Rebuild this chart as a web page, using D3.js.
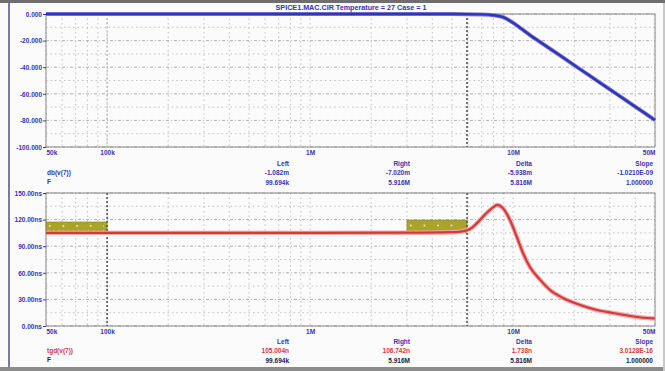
<!DOCTYPE html>
<html><head><meta charset="utf-8">
<script src="https://cdn.jsdelivr.net/npm/d3@7"></script>
<style>
html,body{margin:0;padding:0;background:#fff;}
svg{display:block;font-family:"Liberation Sans",Arial,sans-serif;}
</style></head>
<body>
<svg id="c" width="665" height="371"></svg>
<script>
// ---- data ----
const titleText = "SPICE1.MAC.CIR Temperature = 27 Case = 1";
const xTickValues = [50e3, 100e3, 1e6, 10e6, 50e6];
const xTickLabels = ["50k", "100k", "1M", "10M", "50M"];

const magFreq = [50e3, 100e3, 1e6, 3e6, 5e6, 7e6, 8e6, 9e6, 10e6, 11e6, 12.1e6, 14e6, 17e6, 21e6, 26e6, 31e6, 38e6, 45e6, 50e6];
const magDb   = [0, 0, 0, -0.01, -0.05, -0.3, -0.9, -2.6, -6.6, -11.2, -15.8, -22.4, -31.1, -40.7, -50.3, -58.2, -67.4, -75.0, -79.8];
const magTickValues = [0, -20, -40, -60, -80, -100];
const magTickLabels = ["0.000", "-20.000", "-40.000", "-60.000", "-80.000", "-100.000"];

const gdFreq = [50e3, 100e3, 1e6, 3e6, 5e6, 5.5e6, 6.2e6, 6.64e6, 7.44e6, 8.0e6, 8.33e6, 8.9e6, 9.65e6, 10.45e6, 11.2e6, 12.1e6, 13.6e6, 15.2e6, 17.6e6, 21.4e6, 25.9e6, 31e6, 37.7e6, 45.7e6, 50e6];
const gdNs   = [105, 105, 105, 105.2, 105.8, 106.5, 110, 116, 128, 134, 136.5, 133, 119.5, 100, 82, 66.5, 52, 40.6, 31.6, 23.7, 18, 14.7, 11.3, 9.0, 8.5];
const gdTickValues = [150, 120, 90, 60, 30, 0];
const gdTickLabels = ["150.00ns", "120.00ns", "90.00ns", "60.00ns", "30.00ns", "0.00ns"];

// spec boxes on the group-delay plot: [fLow, fHigh, nsLow, nsHigh]
const boxFreqLow  = [50e3, 3e6];
const boxFreqHigh = [100e3, 5.93e6];
const boxNsLow    = [106, 105];
const boxNsHigh   = [117.3, 119.5];

const cursorFreqs = [100e3, 5.93e6];

const readoutHeads = ["Left", "Right", "Delta", "Slope"];
const magReadout   = ["-1.082m", "-7.020m", "-5.938m", "-1.0210E-09"];
const freqReadout  = ["99.694k", "5.916M", "5.816M", "1.000000"];
const gdReadout    = ["105.004n", "106.742n", "1.738n", "3.0128E-16"];
const magTraceName = "db(v(7))";
const gdTraceName  = "tgd(v(7))";

// ---- drawing ----
const svg = d3.select("#c");
const W = 665, H = 371;
const X0 = 46, X1 = 655;
const x = d3.scaleLog().domain([50e3, 50e6]).range([X0, X1]);
const yTop = d3.scaleLinear().domain([-100, 0]).range([147, 14]);
const yBot = d3.scaleLinear().domain([0, 150]).range([326, 193]);

const BLUE = "#3434b4", RED = "#d43a3a", GRID = "#b4b4b4";

svg.append("rect").attr("width", W).attr("height", H).attr("fill", "#fbfbfb");
// window frame
svg.append("rect").attr("x", 0).attr("y", 0).attr("width", W).attr("height", 3).attr("fill", "#6e6e6e");
svg.append("rect").attr("x", 8).attr("y", 3).attr("width", 2).attr("height", H - 3).attr("fill", "#7a7aa0");
svg.append("rect").attr("x", 0).attr("y", 367).attr("width", W).attr("height", 4).attr("fill", "#8c8c8c");
svg.append("rect").attr("x", 663).attr("y", 3).attr("width", 2).attr("height", H - 3).attr("fill", "#c8c8c8");

// minor frequency ticks 1..9 per decade
const vGrid = [];
for (let d = 1e4; d <= 1e7; d *= 10) for (let m = 1; m <= 9; m++) {
  const f = d * m; if (f >= 50e3 * 0.999 && f <= 50e6 * 1.001) vGrid.push(f);
}

function panel(y, yTickVals, yTickLabs, yMajorStep) {
  const g = svg.append("g");
  const [yb, yt] = y.range();
  g.selectAll(".vg").data(vGrid).join("line")
    .attr("x1", d => x(d)).attr("x2", d => x(d)).attr("y1", yt).attr("y2", yb)
    .attr("stroke", GRID).attr("stroke-width", 0.8).attr("stroke-dasharray", "1.5,3");
  const dom = y.domain();
  const hvals = d3.range(dom[0], dom[1] + 0.001, yMajorStep / 2);
  g.selectAll(".hg").data(hvals).join("line")
    .attr("x1", X0).attr("x2", X1).attr("y1", d => y(d)).attr("y2", d => y(d))
    .attr("stroke", (d, i) => i % 2 === 0 ? "#9a9a9a" : GRID).attr("stroke-width", 0.8)
    .attr("stroke-dasharray", (d, i) => i % 2 === 0 ? "3,2,1,2" : "1.5,3");
  g.append("rect").attr("x", X0).attr("y", yt).attr("width", X1 - X0).attr("height", yb - yt)
    .attr("fill", "none").attr("stroke", "#8a8a8a").attr("stroke-width", 1);
  const ay = d3.axisLeft(y).tickValues(yTickVals).tickFormat((d, i) => yTickLabs[i]).tickSize(3).tickPadding(1);
  const ga = g.append("g").attr("transform", `translate(${X0},0)`).call(ay);
  ga.select(".domain").remove();
  ga.selectAll("line").attr("stroke", BLUE);
  ga.selectAll("text").attr("fill", BLUE).attr("font-size", 6.5).attr("font-weight", "bold").attr("dy", "0.35em");
  const ax = d3.axisBottom(x).tickValues(xTickValues).tickFormat((d, i) => xTickLabels[i]).tickSize(0).tickPadding(3);
  const gx = g.append("g").attr("transform", `translate(0,${yb})`).call(ax);
  gx.select(".domain").remove();
  gx.selectAll("text").attr("fill", BLUE).attr("font-size", 6.5).attr("font-weight", "bold")
    .attr("text-anchor", (d, i) => i === 0 ? "start" : (i === xTickValues.length - 1 ? "end" : "middle"));
  return g;
}

const gTop = panel(yTop, magTickValues, magTickLabels, 20);
const gBot = panel(yBot, gdTickValues, gdTickLabels, 30);

svg.append("text").attr("x", 351).attr("y", 10).attr("text-anchor", "middle")
  .attr("font-size", 7.2).attr("font-weight", "bold").attr("fill", BLUE).text(titleText);

const boxes = boxFreqLow.map((f, i) => ({f0: f, f1: boxFreqHigh[i], n0: boxNsLow[i], n1: boxNsHigh[i]}));
gBot.selectAll(".box").data(boxes).join("rect")
  .attr("x", d => x(d.f0)).attr("width", d => x(d.f1) - x(d.f0))
  .attr("y", d => yBot(d.n1)).attr("height", d => yBot(d.n0) - yBot(d.n1))
  .attr("fill", "#aaa42a").attr("stroke", "#8a8420").attr("stroke-width", 0.6);
gBot.selectAll(".boxdots").data(boxes).join("line")
  .attr("x1", d => x(d.f0) + 3).attr("x2", d => x(d.f1) - 3)
  .attr("y1", d => (yBot(d.n0) + yBot(d.n1)) / 2 - 1).attr("y2", d => (yBot(d.n0) + yBot(d.n1)) / 2 - 1)
  .attr("stroke", "#f4f4e0").attr("stroke-width", 1.6).attr("stroke-dasharray", "1.6,12");
gBot.selectAll(".boxdots2").data(boxes).join("line")
  .attr("x1", d => x(d.f0) + 2).attr("x2", d => x(d.f1) - 2)
  .attr("y1", d => yBot(d.n0) - 1).attr("y2", d => yBot(d.n0) - 1)
  .attr("stroke", "#e8e0c0").attr("stroke-width", 1).attr("stroke-dasharray", "1,4");

gTop.selectAll(".cur").data(cursorFreqs).join("line")
  .attr("x1", d => x(d)).attr("x2", d => x(d)).attr("y1", yTop(0)).attr("y2", yTop(-100))
  .attr("stroke", (d, i) => i === 0 ? "#a0a0a0" : "#707070").attr("stroke-width", (d, i) => i === 0 ? 0.8 : 2)
  .attr("stroke-dasharray", "2,2");
gBot.selectAll(".cur").data(cursorFreqs).join("line")
  .attr("x1", d => x(d)).attr("x2", d => x(d)).attr("y1", yBot(150)).attr("y2", yBot(0))
  .attr("stroke", "#555").attr("stroke-width", 1.6).attr("stroke-dasharray", "2,2");

const lineTop = d3.line().x(d => x(d[0])).y(d => yTop(d[1])).curve(d3.curveMonotoneX);
const lineBot = d3.line().x(d => x(d[0])).y(d => yBot(d[1])).curve(d3.curveMonotoneX);
const magData = magFreq.map((f, i) => [f, magDb[i]]);
const gdData = gdFreq.map((f, i) => [f, gdNs[i]]);
gTop.append("path").attr("d", lineTop(magData)).attr("fill", "none")
  .attr("stroke", "#8080d8").attr("stroke-width", 4).attr("stroke-linejoin", "round");
gTop.append("path").attr("d", lineTop(magData)).attr("fill", "none")
  .attr("stroke", BLUE).attr("stroke-width", 2.4).attr("stroke-linejoin", "round");
gBot.append("path").attr("d", lineBot(gdData)).attr("fill", "none")
  .attr("stroke", "#f0a8a8").attr("stroke-width", 4.4).attr("stroke-linejoin", "round");
gBot.append("path").attr("d", lineBot(gdData)).attr("fill", "none")
  .attr("stroke", RED).attr("stroke-width", 2.2).attr("stroke-linejoin", "round");

const colX = [289, 410, 532, 653];
function readout(y0, traceName, traceColor, vals, fColor) {
  const g = svg.append("g").attr("font-size", 6.5).attr("font-weight", "bold").attr("text-anchor", "end");
  g.selectAll(".h").data(readoutHeads).join("text").attr("x", (d, i) => colX[i]).attr("y", y0).attr("fill", BLUE).text(d => d);
  g.selectAll(".v").data(vals).join("text").attr("x", (d, i) => colX[i]).attr("y", y0 + 9.5).attr("fill", traceColor).text(d => d);
  g.selectAll(".f").data(freqReadout).join("text").attr("x", (d, i) => colX[i]).attr("y", y0 + 19).attr("fill", fColor).text(d => d);
  g.append("text").attr("x", 47).attr("y", y0 + 9.5).attr("text-anchor", "start").attr("fill", traceColor).text(traceName);
  g.append("text").attr("x", 47).attr("y", y0 + 18).attr("text-anchor", "start").attr("fill", fColor).text("F");
}
readout(165.5, magTraceName, BLUE, magReadout, BLUE);
readout(343.5, gdTraceName, RED, gdReadout, "#202050");
</script>
</body></html>
